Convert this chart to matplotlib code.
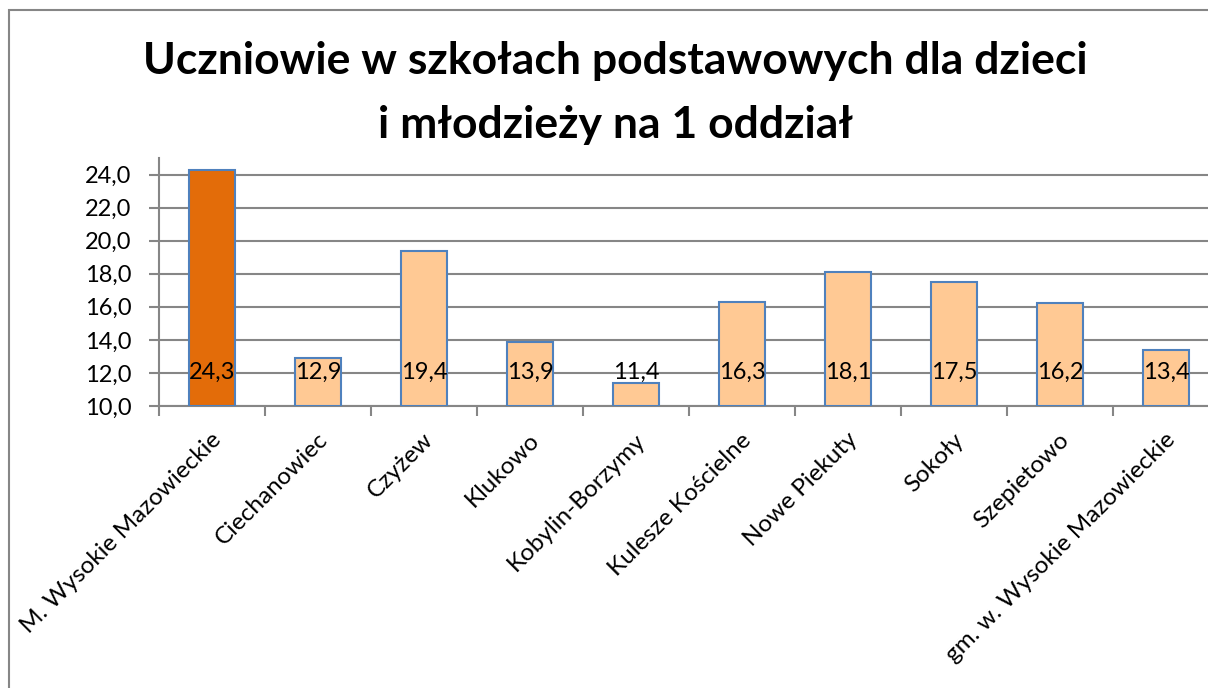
import matplotlib.pyplot as plt
import matplotlib.transforms as mtransforms
from matplotlib.patches import Rectangle

# data
categories = ['M. Wysokie Mazowieckie', 'Ciechanowiec', 'Czyżew', 'Klukowo',
              'Kobylin-Borzymy', 'Kulesze Kościelne', 'Nowe Piekuty', 'Sokoły',
              'Szepietowo', 'gm. w. Wysokie Mazowieckie']
values = [24.3, 12.9, 19.4, 13.9, 11.4, 16.3, 18.1, 17.5, 16.2, 13.4]
y_ticks = [10, 12, 14, 16, 18, 20, 22, 24]
title = 'Uczniowie w szkołach podstawowych dla dzieci\ni młodzieży na 1 oddział'

plt.rcParams['font.family'] = ['Lato', 'DejaVu Sans']

W, H = 1208, 688
fig = plt.figure(figsize=(W / 100, H / 100), dpi=100)

# outer chart border (partly cropped on the right/bottom)
fig.patches.append(Rectangle((9 / W, -0.1), 1.2, 1 - 10 / H + 0.1,
                             transform=fig.transFigure, fill=False,
                             edgecolor='#868686', lw=1.5))

# axes run past the right edge, as in the cropped original
x0, x1 = 159, 159 + 106 * 10
y0, y1 = 406, 158
ax = fig.add_axes([x0 / W, 1 - y0 / H, (x1 - x0) / W, (y0 - y1) / H])

colors = ['#E36C09'] + ['#FFC994'] * (len(values) - 1)
x = list(range(len(values)))
ax.bar(x, [v - 10 for v in values], bottom=10, width=0.44, color=colors,
       edgecolor='#4F81BD', lw=1.5, zorder=3)

for xi, v in zip(x, values):
    ax.annotate(f'{v:.1f}'.replace('.', ','), xy=(xi, 10), xytext=(0, 24.5),
                textcoords='offset points', ha='center', va='center',
                fontsize=17, zorder=4)

ax.set_xlim(-0.5, 9.5)
ax.set_ylim(10, 25)
ax.set_yticks(y_ticks)
ax.set_yticklabels([f'{t:.1f}'.replace('.', ',') for t in y_ticks], fontsize=17)
ax.yaxis.grid(True, color='#868686', lw=1.5, zorder=0)
ax.tick_params(axis='y', length=7, width=1.5, color='#868686', pad=13)

ax.set_xticks([i - 0.5 for i in range(len(values) + 1)])
ax.set_xticklabels([])
ax.tick_params(axis='x', which='major', length=7, width=1.5, color='#868686')
ax.set_xticks(x, minor=True)
ax.set_xticklabels(categories, minor=True, rotation=45, ha='right',
                   va='center', rotation_mode='anchor', fontsize=17.5)
ax.tick_params(axis='x', which='minor', length=0, pad=22)
shift = mtransforms.ScaledTranslation(6 / 100, 0, fig.dpi_scale_trans)
for lbl in ax.get_xticklabels(minor=True):
    lbl.set_transform(lbl.get_transform() + shift)

for side in ['top', 'right']:
    ax.spines[side].set_visible(False)
for side in ['left', 'bottom']:
    ax.spines[side].set_color('#868686')
    ax.spines[side].set_linewidth(1.5)

fig.text(615 / W, 1 - 93 / H, title, ha='center', va='center',
         fontsize=32, fontweight='bold', linespacing=1.7)

fig.savefig('out.png', dpi=100)
